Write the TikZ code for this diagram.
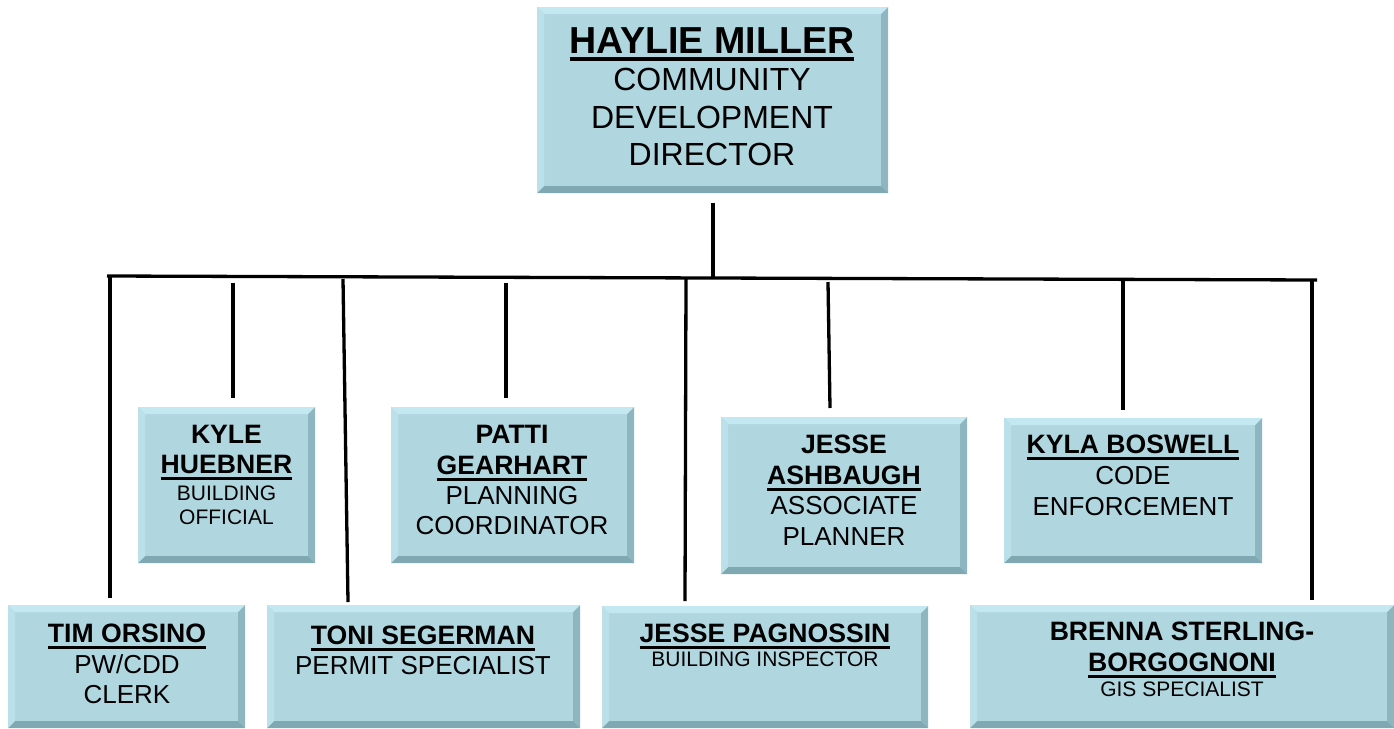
\documentclass[tikz,border=0pt]{standalone}
\usepackage{fontspec}
\setmainfont{Liberation Sans}
\definecolor{boxfill}{RGB}{176,214,224}
\definecolor{bevtop}{RGB}{196,232,242}
\definecolor{bevleft}{RGB}{188,224,233}
\definecolor{bevright}{RGB}{142,182,192}
\definecolor{bevbot}{RGB}{128,168,178}
\newcommand\FBigB{\fontsize{37.6}{41}\selectfont\bfseries}
\newcommand\FBig{\fontsize{32}{36}\selectfont}
\newcommand\FB{\fontsize{26.6}{30}\selectfont\bfseries}
\newcommand\FR{\fontsize{26}{30}\selectfont}
\newcommand\FS{\fontsize{21}{25}\selectfont}
\newsavebox\ulbox
\newcommand\ulb[3]{\sbox\ulbox{#3}\rlap{\rule[-#1]{\wd\ulbox}{#2}}\usebox\ulbox}
\tikzset{
  box/.style={rectangle, draw=none, fill=boxfill, inner sep=0pt, anchor=north west,
    path picture={
      \path (path picture bounding box.south west) coordinate (pp-sw)
            (path picture bounding box.north east) coordinate (pp-ne);
      \fill[bevtop] (pp-sw|-pp-ne) -- (pp-ne) -- ([shift={(-7pt,-7pt)}]pp-ne) -- ([shift={(7pt,-7pt)}]pp-sw|-pp-ne) -- cycle;
      \fill[bevleft] (pp-sw|-pp-ne) -- ([shift={(7pt,-7pt)}]pp-sw|-pp-ne) -- ([shift={(7pt,7pt)}]pp-sw) -- (pp-sw) -- cycle;
      \fill[bevright] (pp-ne) -- (pp-ne|-pp-sw) -- ([shift={(-7pt,7pt)}]pp-ne|-pp-sw) -- ([shift={(-7pt,-7pt)}]pp-ne) -- cycle;
      \fill[bevbot] (pp-sw) -- (pp-ne|-pp-sw) -- ([shift={(-7pt,7pt)}]pp-ne|-pp-sw) -- ([shift={(7pt,7pt)}]pp-sw) -- cycle;
    }},
  txt/.style={anchor=base, inner sep=0pt, text=black},
  conn/.style={draw=black, line width=3.3pt}
}
\begin{document}
\begin{tikzpicture}[x=1pt,y=-1pt]
\useasboundingbox[fill=white] (0,0) rectangle (1394,728);
% boxes
\node[box, minimum width=351pt, minimum height=186pt] (top) at (537,7) {};
\node[box, minimum width=177pt, minimum height=156pt] (kyle) at (138,407) {};
\node[box, minimum width=243pt, minimum height=156pt] (patti) at (391,407) {};
\node[box, minimum width=246pt, minimum height=157pt] (ash) at (721,417) {};
\node[box, minimum width=258pt, minimum height=145pt] (kyla) at (1004,418) {};
\node[box, minimum width=237pt, minimum height=123pt] (tim) at (8,605) {};
\node[box, minimum width=313pt, minimum height=123pt] (toni) at (267,605) {};
\node[box, minimum width=326pt, minimum height=122pt] (jessep) at (602,606) {};
\node[box, minimum width=424pt, minimum height=123pt] (brenna) at (970,605) {};
% texts
\node[txt, font=\FBigB] (t-top1) at (712,53) {\ulb{7.5pt}{3.5pt}{HAYLIE MILLER}};
\node[txt, font=\FBig] (t-top2) at (712,90) {COMMUNITY};
\node[txt, font=\FBig] (t-top3) at (712,128) {DEVELOPMENT};
\node[txt, font=\FBig] (t-top4) at (712,165) {DIRECTOR};

\node[txt, font=\FB] (t-kyle1) at (226.5,443) {KYLE};
\node[txt, font=\FB] (t-kyle2) at (226.5,473) {\ulb{7pt}{3pt}{HUEBNER}};
\node[txt, font=\FS] (t-kyle3) at (226.5,500) {BUILDING};
\node[txt, font=\FS] (t-kyle4) at (226.5,524) {OFFICIAL};

\node[txt, font=\FB] (t-patti1) at (512,443) {PATTI};
\node[txt, font=\FB] (t-patti2) at (512,474) {\ulb{7pt}{3pt}{GEARHART}};
\node[txt, font=\FR] (t-patti3) at (512,504) {PLANNING};
\node[txt, font=\FR] (t-patti4) at (512,534) {COORDINATOR};

\node[txt, font=\FB] (t-ash1) at (844,453) {JESSE};
\node[txt, font=\FB] (t-ash2) at (844,484) {\ulb{7pt}{3pt}{ASHBAUGH}};
\node[txt, font=\FR] (t-ash3) at (844,514) {ASSOCIATE};
\node[txt, font=\FR] (t-ash4) at (844,545) {PLANNER};

\node[txt, font=\FB] (t-kyla1) at (1133,453) {\ulb{7pt}{3pt}{KYLA BOSWELL}};
\node[txt, font=\FR] (t-kyla2) at (1133,484) {CODE};
\node[txt, font=\FR] (t-kyla3) at (1133,515) {ENFORCEMENT};

\node[txt, font=\FB] (t-tim1) at (127,642) {\ulb{7pt}{3pt}{TIM ORSINO}};
\node[txt, font=\FR] (t-tim2) at (127,673) {PW/CDD};
\node[txt, font=\FR] (t-tim3) at (127,703) {CLERK};

\node[txt, font=\FB] (t-toni1) at (423,644) {\ulb{7pt}{3pt}{TONI SEGERMAN}};
\node[txt, font=\FR] (t-toni2) at (423,674) {PERMIT SPECIALIST};

\node[txt, font=\FB] (t-jp1) at (765,642) {\ulb{7pt}{3pt}{JESSE PAGNOSSIN}};
\node[txt, font=\FS] (t-jp2) at (765,666) {BUILDING INSPECTOR};

\node[txt, font=\FB] (t-br1) at (1182,640) {BRENNA STERLING-};
\node[txt, font=\FB] (t-br2) at (1182,671) {\ulb{7pt}{3pt}{BORGOGNONI}};
\node[txt, font=\FS] (t-br3) at (1182,696) {GIS SPECIALIST};
% connectors
\coordinate (busL) at (107,276);
\coordinate (busR) at (1317,280);
\coordinate (busTop) at (713,278);
\coordinate (cTim) at (110,276);
\coordinate (cKyle) at (233,283);
\coordinate (cToni) at (343,279);
\coordinate (cToniE) at (348,602);
\coordinate (cPatti) at (506,283);
\coordinate (cJp) at (686,279);
\coordinate (cJpE) at (685,601);
\coordinate (cAsh) at (828,282);
\coordinate (cAshE) at (830,408);
\coordinate (cKyla) at (1123,280);
\coordinate (cBr) at (1312,280);
\draw[conn] (top.south -| busTop) ++(0,10) -- (busTop);
\draw[conn] (busL) -- (busR);
\draw[conn, shorten >=7pt] (cTim) -- (cTim |- tim.north);
\draw[conn, shorten >=9pt] (cKyle) -- (cKyle |- kyle.north);
\draw[conn] (cToni) -- (cToniE);
\draw[conn, shorten >=9pt] (cPatti) -- (cPatti |- patti.north);
\draw[conn] (cJp) -- (cJpE);
\draw[conn] (cAsh) -- (cAshE);
\draw[conn, shorten >=8pt] (cKyla) -- (cKyla |- kyla.north);
\draw[conn, shorten >=5pt] (cBr) -- (cBr |- brenna.north);
\end{tikzpicture}
\end{document}
